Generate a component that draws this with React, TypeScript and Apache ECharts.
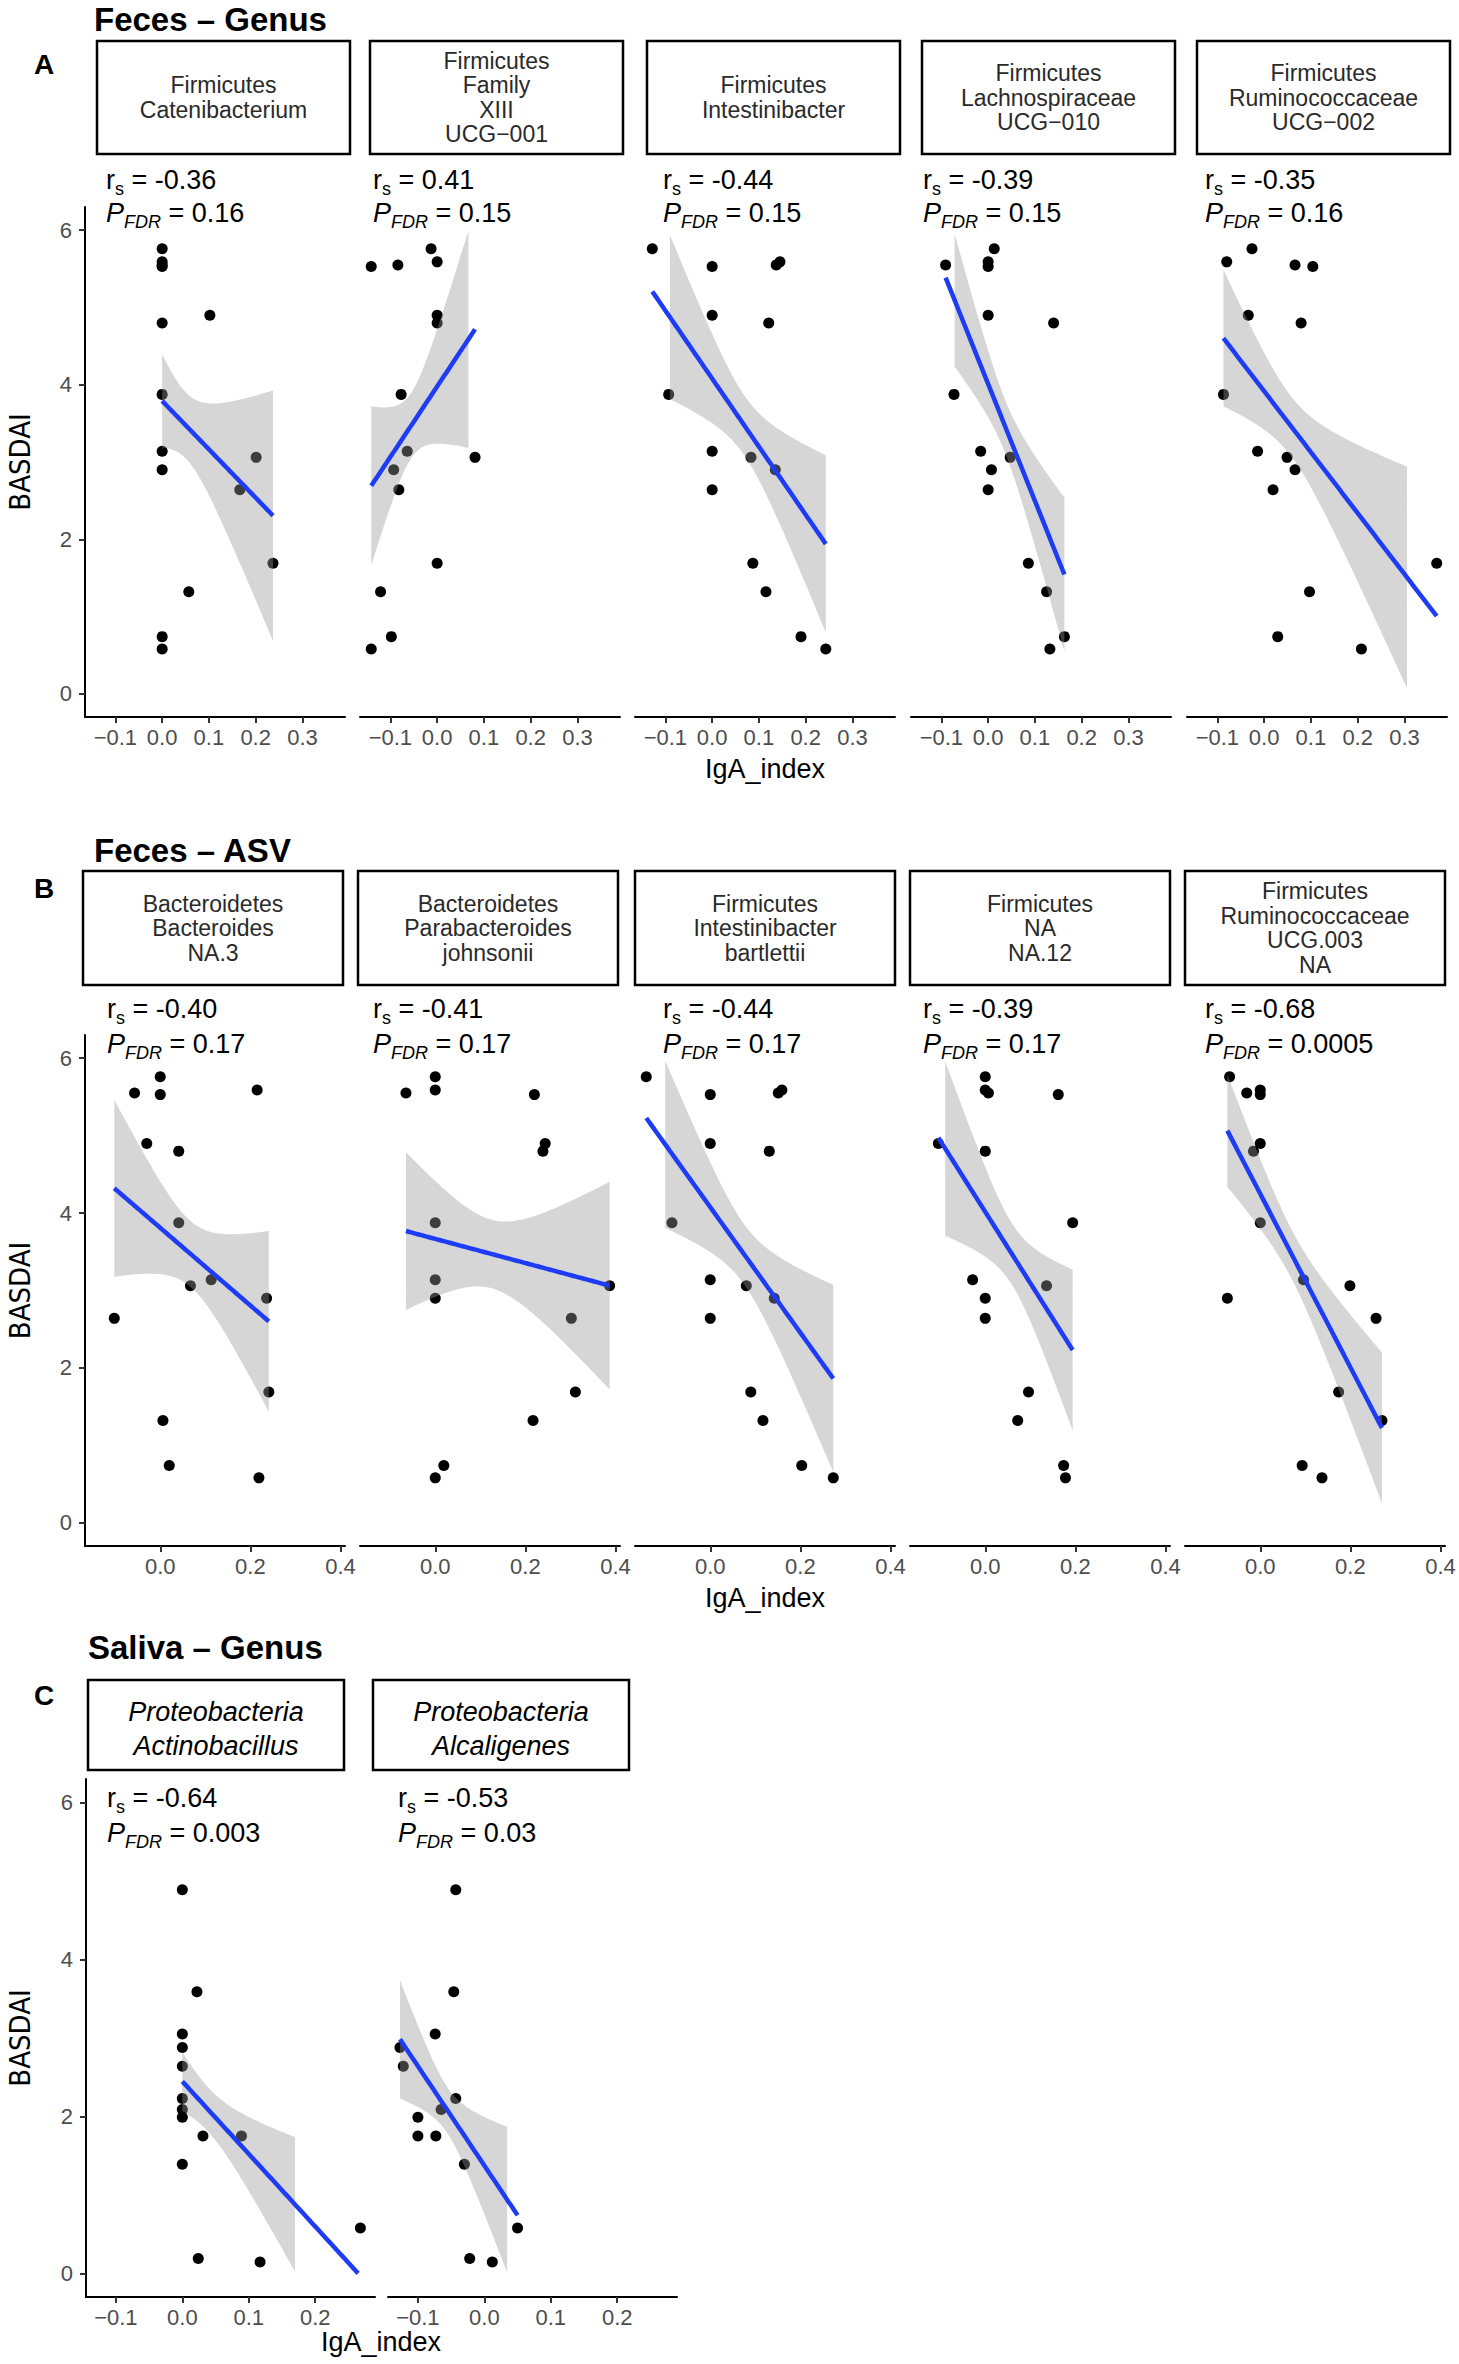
import React, { useEffect, useRef } from 'react';
import * as echarts from 'echarts';

// ---------------- data ----------------
const BASDAI_FECES = [5.76, 5.59, 5.55, 5.53, 4.9, 4.8, 3.875, 3.14, 3.06, 2.9, 2.64, 1.69, 1.32, 0.74, 0.58];
const BASDAI_SALIVA = [4.89, 3.59, 3.05, 2.88, 2.64, 2.23, 2.09, 1.99, 1.75, 1.75, 1.39, 0.58, 0.19, 0.145];

// Panel A (Feces - Genus), IgA index per patient (same order as BASDAI_FECES)
const IGA_CATENIBACTERIUM = [0, 0, 0, 0, 0.102, 0, 0, 0, 0.201, 0, 0.166, 0.237, 0.057, 0, 0];
const IGA_FAMILY_XIII = [-0.013, 0, -0.084, -0.141, 0, 0, -0.077, -0.064, 0.081, -0.093, -0.082, 0, -0.121, -0.098, -0.141];
const IGA_INTESTINIBACTER = [-0.128, 0.145, 0.137, 0, 0, 0.121, -0.093, 0, 0.083, 0.135, 0, 0.087, 0.115, 0.19, 0.243];
const IGA_LACHNO_UCG010 = [0.013, 0, -0.091, 0, 0, 0.14, -0.073, -0.016, 0.047, 0.007, 0, 0.086, 0.125, 0.163, 0.132];
const IGA_RUMINO_UCG002 = [-0.026, -0.08, 0.066, 0.104, -0.034, 0.079, -0.087, -0.014, 0.049, 0.066, 0.019, 0.369, 0.097, 0.029, 0.208];

// Panel B (Feces - ASV)
const IGA_BACTEROIDES_NA3 = [0, 0.215, -0.057, 0, -0.03, 0.041, 0.041, 0.113, 0.067, 0.236, -0.102, 0.241, 0.006, 0.02, 0.219];
const IGA_PARABACT_JOHNSONII = [0, 0, -0.065, 0.22, 0.244, 0.239, 0, 0, 0.387, 0, 0.302, 0.311, 0.217, 0.019, 0];
const IGA_INTESTINI_BARTLETTII = [-0.142, 0.159, 0.151, 0, 0, 0.131, -0.085, 0, 0.08, 0.142, 0, 0.09, 0.117, 0.203, 0.273];
const IGA_NA_NA12 = [0, 0, 0.007, 0.162, -0.104, 0, 0.194, -0.028, 0.136, 0, 0, 0.096, 0.072, 0.174, 0.178];
const IGA_RUMINO_UCG003 = [-0.068, 0, -0.03, 0, 0, -0.015, 0, 0.096, 0.199, -0.073, 0.257, 0.174, 0.27, 0.093, 0.137];

// Panel C (Saliva - Genus)
const IGA_ACTINOBACILLUS = [0, 0.022, 0, 0, 0, 0, 0, 0, 0.031, 0.089, 0, 0.268, 0.024, 0.117];
const IGA_ALCALIGENES = [-0.043, -0.046, -0.074, -0.127, -0.122, -0.043, -0.065, -0.1, -0.1, -0.073, -0.03, 0.05, -0.022, 0.012];

const A_LABELS = [
  ['Firmicutes', 'Catenibacterium'],
  ['Firmicutes', 'Family', 'XIII', 'UCG\u2212001'],
  ['Firmicutes', 'Intestinibacter'],
  ['Firmicutes', 'Lachnospiraceae', 'UCG\u2212010'],
  ['Firmicutes', 'Ruminococcaceae', 'UCG\u2212002'],
];
const A_RS = ['-0.36', '0.41', '-0.44', '-0.39', '-0.35'];
const A_P = ['0.16', '0.15', '0.15', '0.15', '0.16'];

const B_LABELS = [
  ['Bacteroidetes', 'Bacteroides', 'NA.3'],
  ['Bacteroidetes', 'Parabacteroides', 'johnsonii'],
  ['Firmicutes', 'Intestinibacter', 'bartlettii'],
  ['Firmicutes', 'NA', 'NA.12'],
  ['Firmicutes', 'Ruminococcaceae', 'UCG.003', 'NA'],
];
const B_RS = ['-0.40', '-0.41', '-0.44', '-0.39', '-0.68'];
const B_P = ['0.17', '0.17', '0.17', '0.17', '0.0005'];

const C_LABELS = [
  ['Proteobacteria', 'Actinobacillus'],
  ['Proteobacteria', 'Alcaligenes'],
];
const C_RS = ['-0.64', '-0.53'];
const C_P = ['0.003', '0.03'];

const Y_TICKS = [0, 2, 4, 6];
const A_X_TICKS = [-0.1, 0, 0.1, 0.2, 0.3];
const B_X_TICKS = [0, 0.2, 0.4];
const C_X_TICKS = [-0.1, 0, 0.1, 0.2];
const Y_LIMITS = [0, 6];

// ---------------- styling / layout ----------------
const FONT = "'Liberation Sans', Arial, Helvetica, sans-serif";
const NARROW = "'Liberation Sans Narrow', 'DejaVu Sans Condensed', 'Liberation Sans', sans-serif";
const BLUE = '#1E3CF5';
const T975: Record<number, number> = { 12: 2.178813, 13: 2.160369 };
// visual calibration of the confidence ribbon width (centre term / slope term)
const BAND_CENTER_SCALE = 0.42;
const BAND_SLOPE_SCALE = 0.67;

const ROWS = [
  {
    title: 'Feces \u2013 Genus', letter: 'A', titleX: 94, titleY: 19, letterY: 64,
    labels: A_LABELS, rs: A_RS, p: A_P,
    xs: [IGA_CATENIBACTERIUM, IGA_FAMILY_XIII, IGA_INTESTINIBACTER, IGA_LACHNO_UCG010, IGA_RUMINO_UCG002],
    ys: BASDAI_FECES, xTicks: A_X_TICKS,
    top: 207, height: 510, xMin: -0.165, xMax: 0.391,
    lefts: [85, 360, 635, 911, 1187], width: 260,
    stripLefts: [97, 370, 647, 922, 1197], stripWidth: 253, stripTop: 41, stripHeight: 113, stripTextY: 97.5, italic: false,
    annX: [106, 373, 663, 923, 1205], rsY: 182, pY: 215,
    xTitleX: 765, xTitleY: 769,
  },
  {
    title: 'Feces \u2013 ASV', letter: 'B', titleX: 94, titleY: 850, letterY: 888,
    labels: B_LABELS, rs: B_RS, p: B_P,
    xs: [IGA_BACTEROIDES_NA3, IGA_PARABACT_JOHNSONII, IGA_INTESTINI_BARTLETTII, IGA_NA_NA12, IGA_RUMINO_UCG003],
    ys: BASDAI_FECES, xTicks: B_X_TICKS,
    top: 1035, height: 511, xMin: -0.167, xMax: 0.41,
    lefts: [85, 360, 635, 910, 1185], width: 260,
    stripLefts: [83, 358, 635, 910, 1185], stripWidth: 260, stripTop: 871, stripHeight: 114, stripTextY: 928, italic: false,
    annX: [107, 373, 663, 923, 1205], rsY: 1011, pY: 1046,
    xTitleX: 765, xTitleY: 1598,
  },
  {
    title: 'Saliva \u2013 Genus', letter: 'C', titleX: 88, titleY: 1647, letterY: 1695,
    labels: C_LABELS, rs: C_RS, p: C_P,
    xs: [IGA_ACTINOBACILLUS, IGA_ALCALIGENES],
    ys: BASDAI_SALIVA, xTicks: C_X_TICKS,
    top: 1779, height: 518, xMin: -0.145, xMax: 0.29,
    lefts: [86, 388], width: 289,
    stripLefts: [88, 373], stripWidth: 256, stripTop: 1680, stripHeight: 90, stripTextY: 1729, italic: true,
    annX: [107, 398], rsY: 1800, pY: 1835,
    xTitleX: 381, xTitleY: 2342,
  },
];

function lmFit(xs: number[], ys: number[]) {
  const n = xs.length;
  const xbar = xs.reduce((s, v) => s + v, 0) / n;
  const ybar = ys.reduce((s, v) => s + v, 0) / n;
  let sxx = 0, sxy = 0;
  for (let i = 0; i < n; i++) {
    sxx += (xs[i] - xbar) ** 2;
    sxy += (xs[i] - xbar) * (ys[i] - ybar);
  }
  const b = sxy / sxx;
  const a = ybar - b * xbar;
  let sse = 0;
  for (let i = 0; i < n; i++) sse += (ys[i] - a - b * xs[i]) ** 2;
  const s2 = sse / (n - 2);
  const t = T975[n - 2] || 2.16;
  const xmin = Math.min(...xs), xmax = Math.max(...xs);
  const pts: { x: number; y: number; lo: number; hi: number }[] = [];
  const N = 80;
  for (let k = 0; k < N; k++) {
    const x = xmin + ((xmax - xmin) * k) / (N - 1);
    const yh = a + b * x;
    const se = Math.sqrt(
      s2 * ((BAND_CENTER_SCALE ** 2) / n + (BAND_SLOPE_SCALE ** 2) * (x - xbar) ** 2 / sxx)
    );
    pts.push({ x, y: yh, lo: yh - t * se, hi: yh + t * se });
  }
  return pts;
}

function fmtX(v: number) {
  const r = Math.round(v * 10) / 10;
  return (r < 0 ? '\u2212' : '') + Math.abs(r).toFixed(1);
}

const RICH: any = {
  m: { fontSize: 27, fontFamily: FONT, fill: '#000', lineHeight: 31, verticalAlign: 'top' },
  i: { fontSize: 27, fontFamily: FONT, fontStyle: 'italic', fill: '#000', lineHeight: 31, verticalAlign: 'top' },
  s: { fontSize: 18, fontFamily: FONT, fill: '#000', lineHeight: 12, verticalAlign: 'bottom' },
  si: { fontSize: 18, fontFamily: FONT, fontStyle: 'italic', fill: '#000', lineHeight: 12, verticalAlign: 'bottom' },
};

function buildOption() {
  const grids: any[] = [];
  const xAxes: any[] = [];
  const yAxes: any[] = [];
  const series: any[] = [];
  const graphics: any[] = [];

  ROWS.forEach((row) => {
    graphics.push({
      type: 'text', x: row.titleX, y: row.titleY,
      style: { text: row.title, fontSize: 33, fontWeight: 'bold', fontFamily: FONT, fill: '#000', align: 'left', verticalAlign: 'middle' },
    });
    graphics.push({
      type: 'text', x: 44, y: row.letterY,
      style: { text: row.letter, fontSize: 28, fontWeight: 'bold', fontFamily: FONT, fill: '#000', align: 'center', verticalAlign: 'middle' },
    });
    graphics.push({
      type: 'text', x: row.xTitleX, y: row.xTitleY,
      style: { text: 'IgA_index', fontSize: 27, fontFamily: FONT, fill: '#000', align: 'center', verticalAlign: 'middle' },
    });
    graphics.push({
      type: 'text', x: 20, y: row.top + row.height / 2, rotation: Math.PI / 2,
      style: { text: 'BASDAI', fontSize: 29, fontFamily: NARROW, fill: '#000', align: 'center', verticalAlign: 'middle' },
    });

    row.xs.forEach((xs, fi) => {
      const g = grids.length;
      grids.push({
        left: row.lefts[fi], top: row.top, width: row.width, height: row.height,
        containLabel: false, outerBoundsMode: 'none',
      });
      xAxes.push({
        type: 'value', gridIndex: g, min: row.xMin, max: row.xMax,
        axisLine: { show: true, onZero: false, lineStyle: { color: '#000', width: 2 } },
        axisTick: { show: true, length: 6, customValues: row.xTicks, lineStyle: { color: '#333', width: 2 } },
        axisLabel: { show: true, customValues: row.xTicks, formatter: fmtX, color: '#4D4D4D', fontSize: 22, fontFamily: FONT, margin: 9 },
        splitLine: { show: false },
      });
      if (fi === 0) {
        yAxes.push({
          type: 'value', gridIndex: g, min: -0.3, max: 6.3,
          axisLine: { show: true, onZero: false, lineStyle: { color: '#000', width: 2 } },
          axisTick: { show: true, length: 6, customValues: Y_TICKS, lineStyle: { color: '#333', width: 2 } },
          axisLabel: { show: true, customValues: Y_TICKS, formatter: (v: number) => String(Math.round(v)), color: '#4D4D4D', fontSize: 22, fontFamily: FONT, margin: 13 },
          splitLine: { show: false },
        });
      } else {
        yAxes.push({ type: 'value', gridIndex: g, min: -0.3, max: 6.3, show: false, splitLine: { show: false } });
      }

      const ys = row.ys;
      series.push({
        type: 'scatter', xAxisIndex: g, yAxisIndex: g, silent: true, z: 1,
        symbolSize: 11, itemStyle: { color: '#000', opacity: 1 },
        data: xs.map((v, i) => [v, ys[i]]),
      });

      const fit = lmFit(xs, ys);
      // censor like ggplot scale limits: ribbon rows outside [0, 6] are removed
      const runs: { x: number; lo: number; hi: number }[][] = [];
      let cur: any[] = [];
      fit.forEach((p) => {
        if (p.lo >= Y_LIMITS[0] && p.hi <= Y_LIMITS[1]) cur.push(p);
        else { if (cur.length) runs.push(cur); cur = []; }
      });
      if (cur.length) runs.push(cur);

      series.push({
        type: 'custom', xAxisIndex: g, yAxisIndex: g, silent: true, z: 2, clip: true,
        data: [[fit[0].x, fit[0].y]],
        renderItem: (_params: any, api: any) => ({
          type: 'group',
          children: runs.filter((r) => r.length > 1).map((r) => ({
            type: 'polygon',
            shape: {
              points: [
                ...r.map((p) => api.coord([p.x, p.hi])),
                ...r.slice().reverse().map((p) => api.coord([p.x, p.lo])),
              ],
            },
            style: { fill: 'rgba(153,153,153,0.4)', stroke: 'none' },
          })),
        }),
      });

      series.push({
        type: 'line', xAxisIndex: g, yAxisIndex: g, silent: true, z: 3,
        showSymbol: false, symbol: 'none', clip: true,
        lineStyle: { color: BLUE, width: 4.5 },
        data: fit.filter((p) => p.y >= Y_LIMITS[0] && p.y <= Y_LIMITS[1]).map((p) => [p.x, p.y]),
      });

      // strip
      const sx = row.stripLefts[fi];
      graphics.push({
        type: 'rect',
        shape: { x: sx, y: row.stripTop, width: row.stripWidth, height: row.stripHeight },
        style: { fill: '#fff', stroke: '#000', lineWidth: 2.5 },
      });
      graphics.push({
        type: 'text', x: sx + row.stripWidth / 2, y: row.stripTextY,
        style: {
          text: row.labels[fi].join('\n'),
          fontSize: row.italic ? 27 : 23,
          lineHeight: row.italic ? 34 : 24.5,
          fontStyle: row.italic ? 'italic' : 'normal',
          fontFamily: FONT, fill: row.italic ? '#000' : '#2a2a2a',
          align: 'center', verticalAlign: 'middle',
        },
      });

      // annotations
      graphics.push({
        type: 'text', x: row.annX[fi], y: row.rsY,
        style: { text: `{m|r}{s|s}{m| = ${row.rs[fi]}}`, rich: RICH, align: 'left', verticalAlign: 'middle', fontSize: 27, fontFamily: FONT },
      });
      graphics.push({
        type: 'text', x: row.annX[fi], y: row.pY,
        style: { text: `{i|P}{si|FDR}{m| = ${row.p[fi]}}`, rich: RICH, align: 'left', verticalAlign: 'middle', fontSize: 27, fontFamily: FONT },
      });
    });
  });

  return {
    animation: false,
    backgroundColor: '#ffffff',
    grid: grids,
    xAxis: xAxes,
    yAxis: yAxes,
    series,
    graphic: graphics,
  };
}

export default function App() {
  const ref = useRef<HTMLDivElement>(null);
  useEffect(() => {
    if (!ref.current) return;
    const chart = echarts.init(ref.current, undefined, { renderer: 'svg' });
    chart.setOption(buildOption() as any);
    return () => chart.dispose();
  }, []);
  return (
    <div
      ref={ref}
      style={{ position: 'absolute', left: 0, top: 0, width: 1459, height: 2364, background: '#fff' }}
    />
  );
}
